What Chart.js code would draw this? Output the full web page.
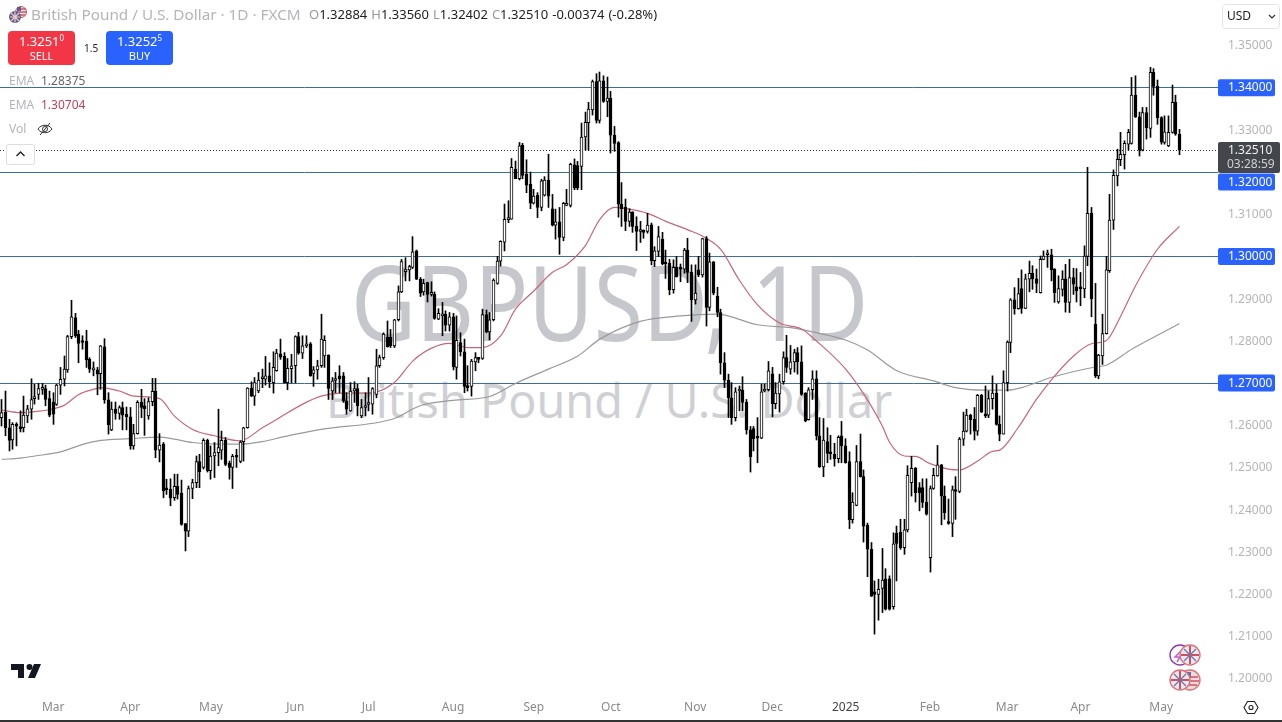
<!DOCTYPE html>
<html>

<head>
    <title>GBPUSD 1D</title>
    <script src="https://cdn.jsdelivr.net/npm/chart.js@4.4.2/dist/chart.umd.min.js"></script>
    <style>
        html, body {
            margin: 0;
            background: #fff;
            overflow: hidden;
        }
        body {
            width: 1282px;
            height: 722px;
            position: relative;
            font-family: "Noto Sans", sans-serif;
        }
        canvas {
            position: absolute;
            left: 0;
            top: 0;
        }
        .t {
            position: absolute;
            white-space: nowrap;
            line-height: 1;
            z-index: 2;
        }
        .wm {
            position: absolute;
            white-space: nowrap;
            line-height: 1;
            z-index: 0;
            transform-origin: left top;
        }
        #chart {
            z-index: 1;
        }
        .btn {
            position: absolute;
            top: 31px;
            width: 67px;
            height: 34px;
            border-radius: 4px;
            color: #fff;
            text-align: center;
            font-size: 13px;
            line-height: 15px;
            z-index: 2;
            padding-top: 3px;
            box-sizing: border-box;
        }
        .btn sup {
            font-size: 8px;
            line-height: 0;
        }
        .btn small {
            font-size: 11px;
            line-height: 13px;
            display: block;
        }
        svg {
            position: absolute;
            z-index: 2;
        }
        #bottom {
            position: absolute;
            left: 0;
            top: 720px;
            width: 1282px;
            height: 2px;
            background: #333;
            z-index: 2;
        }
    </style>
</head>

<body>
    <div class="wm" style="left:351px;top:249px;font-size:104px;color:#c6c7cc;transform:scaleX(0.86)">GBPUSD, 1D</div>
    <div class="wm" style="left:326px;top:377px;font-size:46.7px;color:#cfd0d4">British Pound / U.S. Dollar</div>

    <canvas id="chart" width="1282" height="722"></canvas>

    <svg style="left:8px;top:6px" width="20" height="18" viewBox="0 0 20 18">
        <circle cx="13" cy="6" r="5.5" fill="#e8eaf2" stroke="#c55" stroke-width="1"/>
        <path d="M9 3h9M8 6h10M9 9h8" stroke="#d05060" stroke-width="1.4"/>
        <rect x="9" y="1" width="4" height="4" fill="#5060a0"/>
        <circle cx="7" cy="11" r="6" fill="#5a5f8c"/>
        <path d="M2 11h10M7 5.5v11M3 7l8 8M11 7l-8 8" stroke="#f0c8c8" stroke-width="1.2"/>
    </svg>
    <div class="t" style="left:31px;top:7px;font-size:15.3px;color:#b2b5bc">British Pound / U.S. Dollar · 1D · FXCM</div>
    <div class="t" style="left:309px;top:8px;font-size:13px;color:#222;word-spacing:0.6px">
        <span style="color:#999">O</span>1.32884
        <span style="color:#999">H</span>1.33560
        <span style="color:#999">L</span>1.32402
        <span style="color:#999">C</span>1.32510
        -0.00374 (-0.28%)
    </div>

    <div class="btn" style="left:8px;background:#f23645">1.3251<sup>0</sup><small>SELL</small></div>
    <div class="t" style="left:84px;top:43px;font-size:10px;color:#222">1.5</div>
    <div class="btn" style="left:106px;background:#2962ff">1.3252<sup>5</sup><small>BUY</small></div>

    <div class="t" style="left:9px;top:75px;font-size:12px;color:#b2b5bc">EMA</div>
    <div class="t" style="left:41px;top:75px;font-size:12px;color:#666">1.28375</div>
    <div class="t" style="left:9px;top:99px;font-size:12px;color:#b2b5bc">EMA</div>
    <div class="t" style="left:41px;top:99px;font-size:12px;color:#c2405a">1.30704</div>
    <div class="t" style="left:9px;top:123px;font-size:12px;color:#b2b5bc">Vol</div>
    <svg style="left:37px;top:122px" width="16" height="14" viewBox="0 0 16 14">
        <path d="M1 7c3-5 11-5 14 0c-3 5-11 5-14 0z" fill="none" stroke="#333" stroke-width="1"/>
        <circle cx="8" cy="7" r="2.5" fill="none" stroke="#333"/>
        <path d="M3 13L13 1" stroke="#333"/>
    </svg>
    <svg style="left:6px;top:144px" width="29" height="21" viewBox="0 0 29 21">
        <rect x="0.5" y="0.5" width="28" height="20" rx="2" fill="#fff" stroke="#ddd"/>
        <path d="M10.5 12l4-4l4 4" fill="none" stroke="#222" stroke-width="1.4"/>
    </svg>

    <svg style="left:1222px;top:4px" width="58" height="25" viewBox="0 0 58 25">
        <rect x="0.5" y="0.5" width="57" height="24" rx="3" fill="#fff" stroke="#e4e4e4"/>
        <path d="M47 11l3 3l3-3" fill="none" stroke="#333" stroke-width="1.2"/>
    </svg>
    <div class="t" style="left:1227px;top:10px;font-size:12px;color:#222">USD</div>

    <svg style="left:11px;top:664px" width="32" height="15" viewBox="0 0 32 15">
        <path d="M0 0h13v14h-6v-8h-7zM17 14l6-14h7l-6 14z" fill="#131722"/>
        <circle cx="18.5" cy="3" r="3" fill="#131722"/>
    </svg>

    <svg style="left:1168px;top:644px" width="34" height="50" viewBox="0 0 34 50">
        <circle cx="12" cy="11" r="10" fill="#fff" stroke="#8b3aa8" stroke-width="1.4"/>
        <path d="M14 6l-7 7h5l-3 5" fill="none" stroke="#c060d0" stroke-width="1.5"/>
        <g id="gb">
            <circle cx="22" cy="11" r="10" fill="#e9e9f2" stroke="#e07078" stroke-width="1.4"/>
            <path d="M13 11h18M22 2v18" stroke="#d05060" stroke-width="2"/>
            <path d="M16 5l12 12M28 5l-12 12" stroke="#7078a8" stroke-width="1.4"/>
        </g>
        <circle cx="22" cy="36" r="10" fill="#f0dcdc" stroke="#e07078" stroke-width="1.4"/>
        <path d="M14 33h16M13 37h18M15 41h14" stroke="#d05060" stroke-width="1.6"/>
        <rect x="18" y="28" width="5" height="6" fill="#6070b0"/>
        <circle cx="12" cy="36" r="10" fill="#e9e9f2" stroke="#e07078" stroke-width="1.4"/>
        <path d="M3 36h18M12 27v18" stroke="#d05060" stroke-width="2"/>
        <path d="M6 30l12 12M18 30l-12 12" stroke="#7078a8" stroke-width="1.4"/>
    </svg>

    <svg style="left:1243px;top:700px" width="16" height="15" viewBox="0 0 16 15">
        <path d="M4.5 1.5h7l3.5 6l-3.5 6h-7l-3.5-6z" fill="none" stroke="#222" stroke-width="1.1"/>
        <circle cx="8" cy="7.5" r="2" fill="none" stroke="#222" stroke-width="1.1"/>
    </svg>

    <div id="bottom"></div>

    <script>
        const opens = [
            1.2617,1.2630,1.2593,1.2564,1.2601,1.2593,1.2593,1.2621,1.2637,1.2662,
            1.2672,1.2684,1.2686,1.2662,1.2654,1.2648,1.2694,1.2708,1.2730,1.2809,
            1.2854,1.2815,1.2798,1.2798,1.2755,1.2730,1.2730,1.2721,1.2785,1.2659,
            1.2588,1.2637,1.2627,1.2641,1.2625,1.2619,1.2550,1.2579,1.2653,1.2645,
            1.2621,1.2655,1.2679,1.2540,1.2554,1.2447,1.2447,1.2427,1.2454,1.2438,
            1.2366,1.2348,1.2449,1.2463,1.2513,1.2499,1.2563,1.2491,1.2526,1.2534,
            1.2540,1.2563,1.2509,1.2499,1.2524,1.2513,1.2560,1.2593,1.2687,1.2668,
            1.2680,1.2709,1.2708,1.2716,1.2700,1.2728,1.2768,1.2762,1.2700,1.2733,
            1.2740,1.2809,1.2770,1.2787,1.2792,1.2722,1.2730,1.2740,1.2763,1.2765,
            1.2680,1.2705,1.2716,1.2716,1.2657,1.2633,1.2680,1.2686,1.2621,1.2641,
            1.2648,1.2649,1.2672,1.2740,1.2759,1.2807,1.2807,1.2787,1.2849,1.2915,
            1.2963,1.2967,1.2973,1.3012,1.2945,1.2915,1.2937,1.2909,1.2909,1.2850,
            1.2858,1.2862,1.2836,1.2856,1.2736,1.2795,1.2773,1.2692,1.2691,1.2749,
            1.2758,1.2757,1.2861,1.2820,1.2849,1.2935,1.2988,1.3033,1.3086,1.3087,
            1.3206,1.3183,1.3262,1.3194,1.3170,1.3125,1.3144,1.3115,1.3144,1.3180,
            1.3112,1.3073,1.3081,1.3044,1.3120,1.3120,1.3216,1.3214,1.3212,1.3282,
            1.3316,1.3346,1.3413,1.3321,1.3415,1.3366,1.3374,1.3286,1.3269,1.3123,
            1.3116,1.3082,1.3104,1.3071,1.3058,1.3058,1.3058,1.3074,1.2989,1.3011,
            1.3040,1.2983,1.2983,1.2920,1.2973,1.2971,1.2969,1.3014,1.2962,1.2896,
            1.2967,1.2955,1.3041,1.2878,1.2986,1.2905,1.2866,1.2747,1.2706,1.2664,
            1.2617,1.2680,1.2682,1.2653,1.2588,1.2591,1.2570,1.2568,1.2680,1.2683,
            1.2721,1.2650,1.2673,1.2702,1.2759,1.2732,1.2749,1.2771,1.2749,1.2675,
            1.2612,1.2683,1.2709,1.2574,1.2500,1.2560,1.2534,1.2530,1.2520,1.2574,
            1.2550,1.2513,1.2375,1.2409,1.2513,1.2477,1.2362,1.2305,1.2204,1.2198,
            1.2212,1.2235,1.2235,1.2169,1.2343,1.2345,1.2309,1.2351,1.2463,1.2497,
            1.2451,1.2451,1.2416,1.2285,1.2449,1.2479,1.2505,1.2431,1.2368,1.2366,
            1.2446,1.2442,1.2566,1.2585,1.2623,1.2613,1.2585,1.2670,1.2623,1.2623,
            1.2662,1.2675,1.2601,1.2578,1.2700,1.2795,1.2896,1.2875,1.2923,1.2876,
            1.2945,1.2959,1.2946,1.2913,1.2992,1.3003,1.3003,1.2969,1.2891,1.2921,
            1.2946,1.2890,1.2949,1.2927,1.2923,1.2922,1.2999,1.3101,1.2838,1.2716,
            1.2763,1.2816,1.2965,1.3085,1.3190,1.3228,1.3240,1.3265,1.3267,1.3381,
            1.3330,1.3251,1.3340,1.3302,1.3435,1.3402,1.3328,1.3269,1.3261,1.3293,
            1.3364,1.3288
        ];
        const highs = [
            1.2660,1.2680,1.2613,1.2605,1.2605,1.2633,1.2668,1.2646,1.2709,1.2696,
            1.2698,1.2698,1.2694,1.2680,1.2676,1.2696,1.2736,1.2763,1.2812,1.2895,
            1.2864,1.2824,1.2811,1.2824,1.2759,1.2749,1.2736,1.2788,1.2804,1.2676,
            1.2654,1.2654,1.2645,1.2654,1.2642,1.2641,1.2601,1.2657,1.2684,1.2662,
            1.2664,1.2710,1.2710,1.2579,1.2558,1.2471,1.2472,1.2483,1.2483,1.2469,
            1.2366,1.2455,1.2471,1.2526,1.2530,1.2567,1.2566,1.2550,1.2558,1.2637,
            1.2585,1.2570,1.2514,1.2530,1.2542,1.2562,1.2594,1.2688,1.2702,1.2712,
            1.2724,1.2732,1.2762,1.2747,1.2773,1.2779,1.2803,1.2771,1.2757,1.2767,
            1.2811,1.2819,1.2811,1.2811,1.2795,1.2738,1.2753,1.2862,1.2811,1.2766,
            1.2712,1.2724,1.2740,1.2724,1.2676,1.2700,1.2702,1.2696,1.2660,1.2676,
            1.2712,1.2688,1.2779,1.2765,1.2818,1.2846,1.2826,1.2850,1.2929,1.2992,
            1.2996,1.2978,1.3046,1.3014,1.2949,1.2945,1.2938,1.2939,1.2915,1.2875,
            1.2890,1.2870,1.2866,1.2864,1.2858,1.2818,1.2803,1.2740,1.2755,1.2771,
            1.2759,1.2874,1.2872,1.2866,1.2946,1.2999,1.3036,1.3123,1.3131,1.3231,
            1.3225,1.3269,1.3267,1.3228,1.3199,1.3158,1.3150,1.3182,1.3188,1.3241,
            1.3146,1.3111,1.3115,1.3127,1.3158,1.3220,1.3230,1.3224,1.3315,1.3341,
            1.3364,1.3417,1.3432,1.3436,1.3427,1.3424,1.3390,1.3307,1.3271,1.3174,
            1.3135,1.3112,1.3105,1.3093,1.3082,1.3062,1.3101,1.3078,1.3022,1.3070,
            1.3056,1.3014,1.2992,1.2991,1.2999,1.2981,1.3018,1.3042,1.2979,1.2979,
            1.2999,1.3042,1.3046,1.3007,1.2987,1.2926,1.2874,1.2771,1.2720,1.2700,
            1.2688,1.2692,1.2714,1.2660,1.2596,1.2596,1.2617,1.2696,1.2696,1.2750,
            1.2736,1.2700,1.2720,1.2773,1.2812,1.2788,1.2779,1.2783,1.2787,1.2676,
            1.2688,1.2728,1.2728,1.2617,1.2615,1.2593,1.2575,1.2556,1.2574,1.2608,
            1.2567,1.2536,1.2439,1.2551,1.2578,1.2493,1.2367,1.2321,1.2230,1.2234,
            1.2307,1.2259,1.2242,1.2344,1.2360,1.2376,1.2376,1.2503,1.2525,1.2499,
            1.2463,1.2472,1.2472,1.2455,1.2497,1.2551,1.2506,1.2455,1.2424,1.2455,
            1.2477,1.2570,1.2630,1.2637,1.2625,1.2641,1.2672,1.2672,1.2692,1.2680,
            1.2716,1.2696,1.2621,1.2728,1.2799,1.2899,1.2925,1.2947,1.2967,1.2957,
            1.2988,1.2977,1.2969,1.3000,1.3012,1.3014,1.3016,1.2970,1.2953,1.2965,
            1.2980,1.2992,1.2971,1.2970,1.2961,1.3024,1.3210,1.3115,1.2935,1.2767,
            1.2862,1.2999,1.3146,1.3204,1.3253,1.3293,1.3273,1.3300,1.3423,1.3427,
            1.3341,1.3352,1.3352,1.3447,1.3444,1.3417,1.3330,1.3332,1.3332,1.3405,
            1.3381,1.3300
        ];
        const lows = [
            1.2597,1.2574,1.2538,1.2542,1.2550,1.2583,1.2583,1.2605,1.2613,1.2649,
            1.2660,1.2672,1.2645,1.2619,1.2601,1.2646,1.2672,1.2692,1.2724,1.2804,
            1.2807,1.2747,1.2779,1.2736,1.2724,1.2716,1.2671,1.2684,1.2651,1.2578,
            1.2586,1.2613,1.2613,1.2588,1.2588,1.2542,1.2542,1.2578,1.2617,1.2575,
            1.2613,1.2645,1.2522,1.2512,1.2427,1.2435,1.2408,1.2421,1.2424,1.2362,
            1.2301,1.2335,1.2425,1.2451,1.2451,1.2495,1.2488,1.2471,1.2475,1.2503,
            1.2518,1.2503,1.2471,1.2449,1.2499,1.2510,1.2514,1.2592,1.2667,1.2646,
            1.2676,1.2688,1.2694,1.2688,1.2675,1.2727,1.2755,1.2699,1.2683,1.2699,
            1.2699,1.2767,1.2757,1.2783,1.2715,1.2691,1.2708,1.2736,1.2736,1.2660,
            1.2660,1.2676,1.2676,1.2653,1.2625,1.2632,1.2653,1.2621,1.2617,1.2621,
            1.2633,1.2625,1.2664,1.2736,1.2755,1.2784,1.2783,1.2783,1.2846,1.2913,
            1.2941,1.2941,1.2970,1.2944,1.2904,1.2907,1.2891,1.2905,1.2850,1.2849,
            1.2811,1.2822,1.2822,1.2730,1.2708,1.2763,1.2676,1.2680,1.2668,1.2728,
            1.2747,1.2755,1.2818,1.2801,1.2846,1.2933,1.2976,1.3012,1.3079,1.3087,
            1.3183,1.3180,1.3183,1.3150,1.3112,1.3123,1.3091,1.3107,1.3142,1.3115,
            1.3071,1.3040,1.3004,1.3036,1.3119,1.3116,1.3157,1.3157,1.3157,1.3251,
            1.3251,1.3334,1.3315,1.3315,1.3364,1.3330,1.3244,1.3248,1.3092,1.3070,
            1.3060,1.3070,1.3056,1.3013,1.3032,1.3042,1.3054,1.2979,1.2975,1.2999,
            1.2979,1.2947,1.2908,1.2912,1.2950,1.2939,1.2959,1.2937,1.2845,1.2886,
            1.2951,1.2950,1.2834,1.2870,1.2908,1.2856,1.2720,1.2688,1.2617,1.2601,
            1.2609,1.2633,1.2633,1.2578,1.2488,1.2538,1.2510,1.2567,1.2678,1.2680,
            1.2619,1.2638,1.2630,1.2696,1.2724,1.2720,1.2725,1.2720,1.2670,1.2607,
            1.2611,1.2660,1.2564,1.2499,1.2477,1.2510,1.2518,1.2502,1.2510,1.2510,
            1.2509,1.2354,1.2367,1.2408,1.2476,1.2322,1.2240,1.2193,1.2104,1.2137,
            1.2155,1.2161,1.2161,1.2163,1.2230,1.2305,1.2293,1.2346,1.2431,1.2417,
            1.2396,1.2404,1.2386,1.2251,1.2447,1.2478,1.2363,1.2376,1.2364,1.2335,
            1.2376,1.2439,1.2551,1.2583,1.2578,1.2564,1.2575,1.2629,1.2617,1.2617,
            1.2637,1.2599,1.2562,1.2578,1.2680,1.2771,1.2862,1.2874,1.2864,1.2875,
            1.2915,1.2921,1.2913,1.2912,1.2991,1.2973,1.2941,1.2890,1.2888,1.2905,
            1.2867,1.2866,1.2909,1.2891,1.2882,1.2901,1.2977,1.2856,1.2712,1.2709,
            1.2743,1.2815,1.2961,1.3063,1.3166,1.3214,1.3206,1.3251,1.3265,1.3328,
            1.3237,1.3249,1.3277,1.3281,1.3381,1.3312,1.3265,1.3265,1.3259,1.3291,
            1.3286,1.3240
        ];
        const closes = [
            1.2629,1.2593,1.2563,1.2601,1.2597,1.2591,1.2623,1.2638,1.2660,1.2663,
            1.2686,1.2687,1.2660,1.2623,1.2625,1.2694,1.2708,1.2732,1.2809,1.2856,
            1.2811,1.2793,1.2795,1.2754,1.2732,1.2731,1.2720,1.2787,1.2659,1.2600,
            1.2637,1.2627,1.2641,1.2623,1.2619,1.2550,1.2579,1.2653,1.2641,1.2638,
            1.2655,1.2679,1.2540,1.2552,1.2443,1.2446,1.2426,1.2454,1.2435,1.2364,
            1.2348,1.2449,1.2463,1.2513,1.2489,1.2563,1.2491,1.2526,1.2534,1.2546,
            1.2563,1.2506,1.2499,1.2525,1.2523,1.2559,1.2593,1.2687,1.2668,1.2700,
            1.2706,1.2710,1.2716,1.2702,1.2736,1.2770,1.2760,1.2700,1.2734,1.2740,
            1.2809,1.2770,1.2787,1.2792,1.2716,1.2730,1.2740,1.2803,1.2800,1.2686,
            1.2704,1.2709,1.2709,1.2657,1.2637,1.2680,1.2686,1.2645,1.2641,1.2645,
            1.2649,1.2686,1.2740,1.2759,1.2815,1.2785,1.2787,1.2849,1.2915,1.2987,
            1.2967,1.2975,1.3010,1.2945,1.2912,1.2935,1.2909,1.2910,1.2852,1.2864,
            1.2862,1.2836,1.2856,1.2738,1.2800,1.2773,1.2691,1.2688,1.2751,1.2759,
            1.2755,1.2861,1.2820,1.2849,1.2943,1.2988,1.3035,1.3087,1.3089,1.3210,
            1.3183,1.3261,1.3191,1.3168,1.3125,1.3142,1.3115,1.3178,1.3180,1.3142,
            1.3073,1.3081,1.3044,1.3125,1.3123,1.3217,1.3161,1.3161,1.3282,1.3317,
            1.3348,1.3413,1.3321,1.3415,1.3366,1.3374,1.3286,1.3267,1.3123,1.3112,
            1.3082,1.3104,1.3070,1.3058,1.3059,1.3056,1.3073,1.2989,1.3012,1.3046,
            1.2981,1.2981,1.2920,1.2973,1.2951,1.2969,1.3014,1.2961,1.2896,1.2912,
            1.2955,1.3041,1.2878,1.2986,1.2912,1.2866,1.2747,1.2706,1.2664,1.2617,
            1.2678,1.2681,1.2653,1.2588,1.2524,1.2567,1.2568,1.2678,1.2683,1.2728,
            1.2650,1.2675,1.2702,1.2759,1.2736,1.2749,1.2771,1.2749,1.2672,1.2609,
            1.2683,1.2709,1.2574,1.2500,1.2564,1.2532,1.2531,1.2520,1.2570,1.2550,
            1.2510,1.2375,1.2417,1.2513,1.2477,1.2360,1.2305,1.2194,1.2198,1.2210,
            1.2232,1.2163,1.2163,1.2318,1.2319,1.2309,1.2351,1.2480,1.2497,1.2439,
            1.2439,1.2416,1.2388,1.2449,1.2480,1.2505,1.2431,1.2392,1.2366,1.2446,
            1.2442,1.2566,1.2585,1.2623,1.2612,1.2585,1.2670,1.2630,1.2621,1.2662,
            1.2675,1.2601,1.2578,1.2700,1.2796,1.2896,1.2875,1.2911,1.2876,1.2946,
            1.2959,1.2946,1.2935,1.2992,1.3000,1.3004,1.2967,1.2913,1.2923,1.2945,
            1.2890,1.2949,1.2933,1.2917,1.2922,1.3000,1.3101,1.2899,1.2716,1.2765,
            1.2816,1.2967,1.3085,1.3191,1.3229,1.3241,1.3267,1.3293,1.3381,1.3330,
            1.3251,1.3340,1.3304,1.3435,1.3402,1.3328,1.3270,1.3294,1.3293,1.3364,
            1.3289,1.3251
        ];

        // EMA lines at these bars, gaps are spanned by the line
        const emaRedBars = [0,5,9,14,17,21,25,27,32,36,43,47,52,58,65,71,75,82,87,93,100,107,112,117,122,127,131,136,140,145,150,154,159,163,167,171,176,181,187,192,196,201,206,212,218,222,230,235,240,242,246,249,253,258,261,266,270,272,277,282,287,292,297,301,305,309,315,321];
        const emaRedValues = [1.2635,1.2629,1.2631,1.2638,1.2646,1.2672,1.2684,1.2688,1.2680,1.2668,1.2662,1.2621,1.2589,1.2574,1.2562,1.2593,1.2613,1.2649,1.2668,1.2675,1.2675,1.2700,1.2751,1.2781,1.2793,1.2783,1.2783,1.2811,1.2874,1.2917,1.2961,1.2980,1.3024,1.3087,1.3115,1.3111,1.3101,1.3082,1.3062,1.3042,1.3015,1.2943,1.2884,1.2841,1.2827,1.2799,1.2732,1.2672,1.2597,1.2558,1.2526,1.2525,1.2508,1.2495,1.2493,1.2514,1.2537,1.2540,1.2593,1.2660,1.2716,1.2762,1.2792,1.2799,1.2858,1.2929,1.3016,1.3070];
        const emaGrayBars = [0,5,9,16,23,27,35,43,47,52,59,65,71,77,87,107,114,123,133,140,149,157,163,174,185,195,206,216,221,230,236,244,254,260,268,274,278,286,298,301,308,315,321];
        const emaGrayValues = [1.2518,1.2521,1.2526,1.2536,1.2556,1.2563,1.2567,1.2571,1.2566,1.2558,1.2554,1.2554,1.2560,1.2572,1.2589,1.2615,1.2645,1.2658,1.2667,1.2698,1.2732,1.2763,1.2803,1.2845,1.2858,1.2862,1.2837,1.2829,1.2820,1.2801,1.2777,1.2728,1.2704,1.2688,1.2682,1.2682,1.2688,1.2712,1.2737,1.2741,1.2779,1.2812,1.2840];

        const monthBars = [14,35,57,80,100,123,145,166,189,210,230,253,274,294,316];
        const monthNames = ['Mar','Apr','May','Jun','Jul','Aug','Sep','Oct','Nov','Dec','2025','Feb','Mar','Apr','May'];

        const levels = [1.34, 1.32, 1.30, 1.27];
        const levelLabels = ['1.34000', '1.32000', '1.30000', '1.27000'];
        const lastPrice = 1.3251;
        const countdown = '03:28:59';
        const totalSlots = 332;

        const FONT = '"Noto Sans", sans-serif';

        const labels = new Array(totalSlots).fill('');
        monthBars.forEach((b, i) => { labels[b] = monthNames[i]; });

        const spread = (bars, values) => {
            const out = new Array(opens.length).fill(null);
            bars.forEach((b, i) => { out[b] = values[i]; });
            return out;
        };

        // keep candles on whole pixels so the bodies stay crisp
        const snapBars = {
            id: 'snapBars',
            beforeDatasetsDraw(chart) {
                chart.data.datasets.forEach((ds, i) => {
                    if (ds.type !== 'bar') return;
                    chart.getDatasetMeta(i).data.forEach(el => {
                        el.x = Math.floor(el.x) + 0.5;
                    });
                });
            }
        };

        const levelLines = {
            id: 'levelLines',
            beforeDatasetsDraw(chart) {
                const { ctx, scales: { y }, chartArea } = chart;
                ctx.save();
                ctx.lineWidth = 1;
                ctx.strokeStyle = '#3c6e9c';
                levels.forEach(l => {
                    const py = Math.round(y.getPixelForValue(l)) + 0.5;
                    ctx.beginPath();
                    ctx.moveTo(chartArea.left, py);
                    ctx.lineTo(chartArea.right, py);
                    ctx.stroke();
                });
                const py = Math.round(y.getPixelForValue(lastPrice)) + 0.5;
                ctx.strokeStyle = '#333';
                ctx.setLineDash([1, 2]);
                ctx.beginPath();
                ctx.moveTo(chartArea.left, py);
                ctx.lineTo(chartArea.right, py);
                ctx.stroke();
                ctx.restore();
            }
        };

        // price tags on the axis, 1.32 is pushed down by the last price tag
        const priceTags = {
            id: 'priceTags',
            afterDraw(chart) {
                const { ctx, scales: { y }, chartArea } = chart;
                const x0 = chartArea.right;
                ctx.save();
                ctx.font = '12px ' + FONT;
                ctx.textBaseline = 'middle';
                ctx.textAlign = 'left';
                levels.forEach((l, i) => {
                    const py = y.getPixelForValue(l) + (l === 1.32 ? 10 : 0);
                    ctx.fillStyle = '#2962ff';
                    ctx.beginPath();
                    ctx.roundRect(x0, py - 8, 57, 17, 2);
                    ctx.fill();
                    ctx.fillStyle = '#fff';
                    ctx.fillText(levelLabels[i], x0 + 10, py + 0.5);
                });
                const py = y.getPixelForValue(lastPrice);
                ctx.fillStyle = '#43464d';
                ctx.beginPath();
                ctx.roundRect(x0, py - 8, 62, 31, 2);
                ctx.fill();
                ctx.fillStyle = '#f0f0f0';
                ctx.fillText(lastPrice.toFixed(5), x0 + 10, py + 0.5);
                ctx.fillStyle = '#d0d0d0';
                ctx.fillText(countdown, x0 + 9, py + 15);
                ctx.restore();
            }
        };

        new Chart(document.getElementById('chart').getContext('2d'), {
            data: {
                labels: labels,
                datasets: [
                    {
                        type: 'line',
                        data: spread(emaRedBars, emaRedValues),
                        borderColor: '#c8667a',
                        borderWidth: 1.2,
                        pointRadius: 0,
                        spanGaps: true,
                        cubicInterpolationMode: 'monotone',
                        order: 4
                    },
                    {
                        type: 'line',
                        data: spread(emaGrayBars, emaGrayValues),
                        borderColor: '#9a9a9a',
                        borderWidth: 1.2,
                        pointRadius: 0,
                        spanGaps: true,
                        cubicInterpolationMode: 'monotone',
                        order: 5
                    },
                    {
                        type: 'bar',
                        data: lows.map((l, i) => [l, highs[i]]),
                        backgroundColor: '#000',
                        barThickness: 1,
                        grouped: false,
                        order: 3
                    },
                    {
                        type: 'bar',
                        data: opens.map((o, i) => [Math.min(o, closes[i]), Math.max(o, closes[i])]),
                        backgroundColor: opens.map((o, i) => closes[i] >= o ? '#fff' : '#000'),
                        borderColor: '#000',
                        borderWidth: 1,
                        borderSkipped: false,
                        barThickness: 3,
                        minBarLength: 2,
                        grouped: false,
                        order: 1
                    }
                ]
            },
            options: {
                responsive: false,
                animation: false,
                events: [],
                layout: { padding: 0 },
                plugins: {
                    legend: { display: false },
                    tooltip: { enabled: false }
                },
                scales: {
                    x: {
                        type: 'category',
                        grid: { display: false, drawTicks: false },
                        border: { display: false },
                        afterFit(scale) {
                            scale.height = 30;
                            scale.paddingLeft = 0;
                            scale.paddingRight = 0;
                        },
                        ticks: {
                            autoSkip: false,
                            maxRotation: 0,
                            padding: 8,
                            font: { family: FONT, size: 12 },
                            color: ctx => ctx.tick.label === '2025' ? '#444' : '#8a8a8a'
                        }
                    },
                    y: {
                        position: 'right',
                        min: 1.19668,
                        max: 1.36066,
                        grid: { display: false, drawTicks: false },
                        border: { display: false },
                        afterFit(scale) {
                            scale.width = 64;
                            scale.paddingTop = 0;
                            scale.paddingBottom = 0;
                        },
                        ticks: {
                            stepSize: 0.01,
                            includeBounds: false,
                            autoSkip: false,
                            padding: 10,
                            labelOffset: 1,
                            font: { family: FONT, size: 12 },
                            color: '#b5b5b5',
                            callback(v) {
                                if (v > 1.355 || levels.some(l => Math.abs(l - v) < 0.001)) return '';
                                return v.toFixed(5);
                            }
                        }
                    }
                }
            },
            plugins: [snapBars, levelLines, priceTags]
        });
    </script>
</body>

</html>
